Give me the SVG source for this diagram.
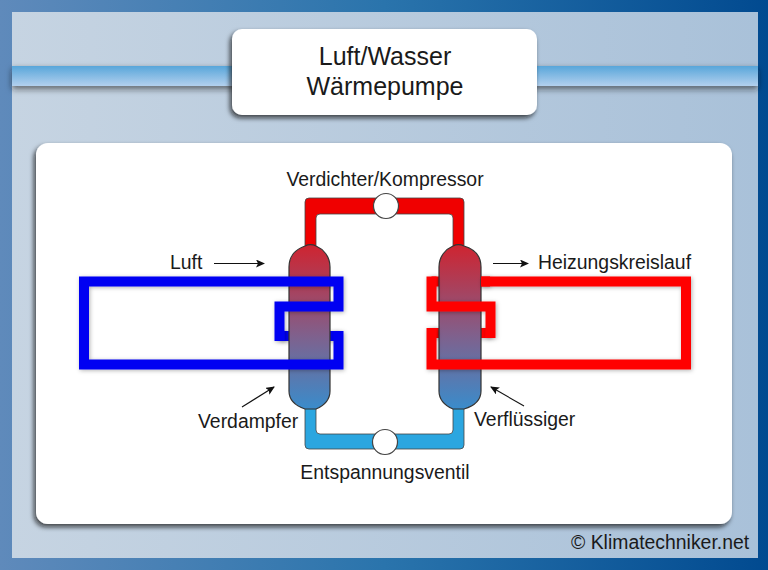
<svg xmlns="http://www.w3.org/2000/svg" width="768" height="570" viewBox="0 0 768 570">
<defs>
<linearGradient id="outer" x1="0" y1="0" x2="1" y2="0"><stop offset="0" stop-color="#5f8abb"/><stop offset="0.5" stop-color="#2a74ac"/><stop offset="1" stop-color="#014a90"/></linearGradient>
<linearGradient id="inner" x1="0" y1="0" x2="1" y2="0"><stop offset="0" stop-color="#c6d4e2"/><stop offset="1" stop-color="#a9c1d9"/></linearGradient>
<linearGradient id="band" x1="0" y1="0" x2="0" y2="1"><stop offset="0" stop-color="#58a6da"/><stop offset="1" stop-color="#b3d0ee"/></linearGradient>
<linearGradient id="vessel" x1="0" y1="0" x2="0" y2="1"><stop offset="0" stop-color="#cf2430"/><stop offset="0.55" stop-color="#80608c"/><stop offset="1" stop-color="#3a8ccb"/></linearGradient>
<filter id="shadow" x="-10%" y="-30%" width="120%" height="160%"><feDropShadow dx="-2" dy="3" stdDeviation="2.5" flood-color="#111" flood-opacity="0.75"/></filter>
<filter id="bshadow" x="-10%" y="-100%" width="120%" height="300%"><feDropShadow dx="0" dy="3" stdDeviation="3" flood-color="#222" flood-opacity="0.6"/></filter>
<filter id="coil" filterUnits="userSpaceOnUse" x="50" y="250" width="670" height="150"><feDropShadow dx="1" dy="1" stdDeviation="2" flood-color="#000" flood-opacity="0.3"/></filter>
<marker id="arrow" markerWidth="10" markerHeight="8" refX="8" refY="4" orient="auto" markerUnits="userSpaceOnUse"><path d="M0 0L9 4L0 8L2 4Z" fill="#111"/></marker>
</defs>
<style>
text{font-family:"Liberation Sans",Arial,sans-serif;fill:#1a1a1a;font-size:19.4px}
.pipe{fill:none;stroke-linejoin:miter;stroke-width:10}
.blue{stroke:#0000f2}
.red{stroke:#ff0000}
.ves{fill:url(#vessel);stroke:#333;stroke-width:1.2}
.arr{fill:none;stroke:#111;stroke-width:1.1;marker-end:url(#arrow)}
.valve{fill:#fff;stroke:#444;stroke-width:1.2}
</style>
<rect width="768" height="570" fill="url(#outer)"/>
<rect x="12" y="12" width="746" height="546" fill="url(#inner)"/>
<rect id="band" x="12" y="66" width="746" height="20" fill="url(#band)" filter="url(#bshadow)"/>
<g id="title"><rect x="232" y="29" width="305" height="86" rx="10" fill="#fff" filter="url(#shadow)"/>
<text x="385" y="65" text-anchor="middle" style="font-size:25px">Luft/Wasser</text>
<text x="385" y="95" text-anchor="middle" style="font-size:25px">Wärmepumpe</text></g>
<rect id="panel" x="36" y="143" width="696" height="381" rx="12" fill="#fff" filter="url(#shadow)"/>
<g id="connectors">
<path d="M305 247V202Q305 198 309 198H460Q464 198 464 202V247H453V218Q453 214 449 214H320Q316 214 316 218V247Z" fill="#f00000" stroke="#444" stroke-width="0.8"/>
<path d="M305 407V445Q305 449 309 449H460Q464 449 464 445V407H453V430Q453 434 449 434H320Q316 434 316 430V407Z" fill="#2ba6e0" stroke="#444" stroke-width="0.8"/>
<path class="pipe blue" d="M279.5 336H338.5" filter="url(#coil)"/>
<path class="pipe red" d="M431.5 281.5H490M431.5 333H490.5" filter="url(#coil)"/>
<path class="arr" d="M214 263.5H264"/>
<path class="arr" d="M493 263.5H528"/>
<path class="arr" d="M242 407L274 387"/>
<path class="arr" d="M524 406L491 387"/>
</g>
<g id="verdampfer"><path class="ves" d="M305 246C296 249 289 256 289 267V391C289 400 296 406 305 409H316C323 406 330 400 330 391V267C330 256 323 249 316 246C312 244 309 244 305 246Z"/></g>
<g id="verfluessiger"><path class="ves" d="M453 246C446 249 439 256 439 267V391C439 400 446 406 453 409H464C474 406 481 400 481 391V267C481 256 474 249 464 246C460 244 457 244 453 246Z"/></g>
<g id="coil-blue"><path class="pipe blue" d="M279.5 341V306.5H338.5V281.5H84V364.5H338.5V331" filter="url(#coil)"/></g>
<g id="coil-red"><path class="pipe red" d="M431.5 276.5V306.5H490.5V338M481 281.5H686V364.5H431.5V328" filter="url(#coil)"/></g>
<g id="valve-top"><circle class="valve" cx="386" cy="206" r="12.5"/></g>
<g id="valve-bottom"><circle class="valve" cx="385" cy="442" r="12.5"/></g>
<text x="385" y="186" text-anchor="middle">Verdichter/Kompressor</text>
<text x="385" y="479" text-anchor="middle">Entspannungsventil</text>
<text x="170" y="269">Luft</text>
<text x="538" y="269">Heizungskreislauf</text>
<text x="198" y="428">Verdampfer</text>
<text x="474" y="426">Verflüssiger</text>
<text x="571" y="549">© Klimatechniker.net</text>
</svg>
